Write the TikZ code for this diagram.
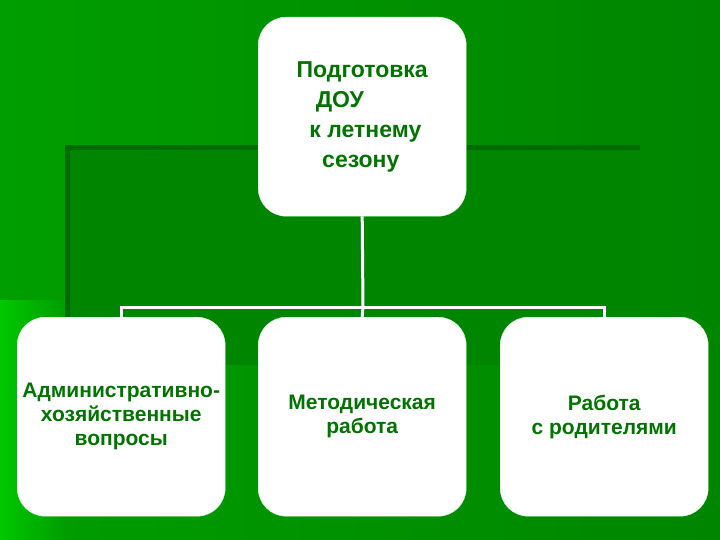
\documentclass[tikz,border=0pt]{standalone}
\usepackage{fontspec}
\setmainfont{Liberation Sans}
\begin{document}
\begin{tikzpicture}[x=1pt,y=-1pt,
 box/.style={draw=white!85!green,fill=white,rounded corners=28pt,minimum width=208pt,minimum height=199pt,anchor=north west,inner sep=0pt,font=\fontsize{21}{24}\selectfont\bfseries,text=green!45!black,align=center},
 wire/.style={draw=white,line width=3pt}]
\fill[left color=green!62!black,right color=green!52!black] (0,0) rectangle (720,540);
\fill[green!42!black] (65,145) rectangle (640,365);
\fill[green!52!black] (70,150) rectangle (640,365);
\fill[left color=green!78!black,right color=green!62!black] (0,300) rectangle (65,540);
\useasboundingbox (0,0) rectangle (720,540);
\node[box,font=\fontsize{23}{30}\selectfont\bfseries] (top) at (258,17) {\begin{tabular}{@{}l@{}}Подготовка\\ \ \ \ ДОУ\\ \ \ к летнему\\ \ \ \ \ сезону\end{tabular}};
\node[box] (a) at (17,317) {Административно-\\хозяйственные\\вопросы};
\node[box] (b) at (258,317) {Методическая\\работа};
\node[box] (c) at (500,317) {Работа\\с родителями};
\coordinate (j) at (363,307);
\draw[wire] (top.south) -- (j);
\draw[wire] (a.north) -- ++(0,-10) -| (c.north);
\draw[wire] (j) -- (b.north);
\end{tikzpicture}
\end{document}
